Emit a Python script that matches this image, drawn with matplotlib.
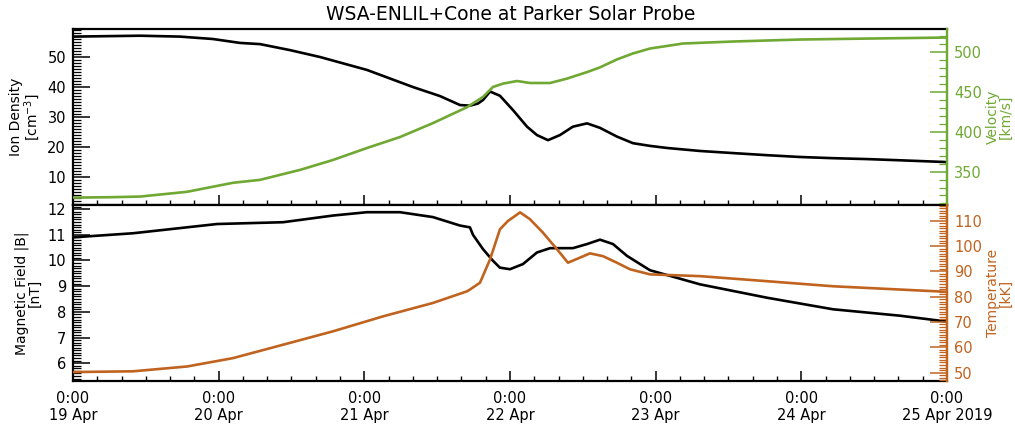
import matplotlib
matplotlib.use("Agg")
import matplotlib.pyplot as plt
from matplotlib.ticker import MultipleLocator, FuncFormatter

# WSA-ENLIL+Cone at Parker Solar Probe, 19-25 Apr 2019
# x = days since 19 Apr 2019 0:00

day_labels = ['19 Apr', '20 Apr', '21 Apr', '22 Apr', '23 Apr', '24 Apr', '25 Apr 2019']

# ion density [cm^-3]
dens_t = [0.0, 0.46, 0.735, 0.961, 1.146, 1.284, 1.49, 1.696, 2.018, 2.334, 2.519, 2.657,
          2.725, 2.78, 2.815, 2.863, 2.931, 3.021, 3.117, 3.185, 3.261, 3.343, 3.432, 3.529,
          3.618, 3.734, 3.844, 3.961, 4.078, 4.305, 4.531, 4.764, 4.991, 5.217, 5.451, 5.677, 6.0]
dens_v = [56.9, 57.2, 56.9, 56.1, 54.8, 54.4, 52.4, 50.1, 45.8, 40.1, 37.1, 34.1,
          33.9, 34.6, 35.8, 38.6, 37.2, 32.4, 26.9, 24.1, 22.4, 24.1, 26.9, 28.0,
          26.5, 23.6, 21.4, 20.5, 19.8, 18.8, 18.1, 17.4, 16.8, 16.4, 16.1, 15.7, 15.1]

# velocity [km/s]
vel_t = [0.0, 0.254, 0.46, 0.783, 1.098, 1.284, 1.558, 1.785, 2.018, 2.245, 2.471, 2.705,
         2.815, 2.883, 2.952, 3.048, 3.137, 3.275, 3.391, 3.529, 3.618, 3.734, 3.844, 3.961,
         4.188, 4.531, 4.991, 5.451, 6.0]
vel_v = [317.3, 317.8, 318.6, 324.6, 335.9, 339.6, 352.1, 364.6, 379.6, 393.4, 410.9, 430.9,
         443.8, 456.3, 460.5, 463.8, 461.3, 461.3, 466.8, 475.0, 480.9, 490.9, 498.4, 504.6,
         510.9, 513.4, 515.9, 517.1, 518.4]

# magnetic field |B| [nT]
bmag_t = [0.0, 0.412, 0.989, 1.442, 1.785, 2.018, 2.245, 2.471, 2.657, 2.725, 2.746, 2.815,
          2.883, 2.931, 3.0, 3.089, 3.185, 3.275, 3.432, 3.529, 3.618, 3.707, 3.803, 3.961,
          4.305, 4.764, 5.217, 5.677, 6.0]
bmag_v = [10.9, 11.06, 11.42, 11.49, 11.75, 11.88, 11.88, 11.69, 11.36, 11.29, 11.0, 10.44,
          9.99, 9.72, 9.66, 9.86, 10.31, 10.48, 10.48, 10.64, 10.81, 10.64, 10.18, 9.62,
          9.07, 8.55, 8.1, 7.85, 7.62]

# temperature [kK]
temp_t = [0.0, 0.412, 0.783, 1.098, 1.442, 1.785, 2.128, 2.471, 2.705, 2.725, 2.794, 2.863,
          2.931, 2.986, 3.021, 3.069, 3.137, 3.226, 3.323, 3.398, 3.48, 3.549, 3.638, 3.734,
          3.824, 3.961, 4.305, 4.764, 5.217, 5.677, 6.0]
temp_v = [50.2, 50.5, 52.4, 55.7, 61.0, 66.3, 72.2, 77.5, 82.1, 82.8, 85.5, 94.7,
          106.6, 109.9, 111.3, 113.3, 110.6, 105.3, 98.7, 93.4, 95.4, 97.1, 96.0, 93.4,
          90.8, 88.8, 88.1, 86.1, 84.1, 82.8, 81.9]

GREEN = '#6fa832'
ORANGE = '#c0631f'


def day_label(x, pos):
    i = int(round(x))
    if 0 <= i < len(day_labels):
        return '0:00\n' + day_labels[i]
    return ''


def style_axes(ax, right_color):
    for s in ax.spines.values():
        s.set_linewidth(1.6)
    ax.spines['right'].set_color(right_color)
    ax.set_xlim(0, 6)
    ax.xaxis.set_major_locator(MultipleLocator(1))
    ax.xaxis.set_minor_locator(MultipleLocator(1 / 6))
    ax.tick_params(axis='x', which='major', direction='in', length=7, width=1.1, top=False)
    ax.tick_params(axis='x', which='minor', direction='in', length=3.5, width=1.0, top=False)
    # IDL style: long major ticks, dense minor ticks on the left axis
    ax.tick_params(axis='y', which='major', direction='in', length=12, width=1.1,
                   labelsize=10.5, pad=5, left=True, right=False)
    ax.tick_params(axis='y', which='minor', direction='in', length=6, width=0.9,
                   left=True, right=False)


def style_twin(ax2, color):
    ax2.spines['right'].set_color(color)
    ax2.spines['right'].set_linewidth(1.6)
    for s in ['left', 'top', 'bottom']:
        ax2.spines[s].set_visible(False)
    ax2.tick_params(axis='y', which='major', direction='in', length=12, width=1.1,
                    colors=color, labelsize=10.5, pad=5)
    ax2.tick_params(axis='y', which='minor', direction='in', length=6, width=0.9, colors=color)


fig = plt.figure(figsize=(10.15, 4.28), dpi=100)
ax1 = fig.add_axes([0.0719, 0.521, 0.8611, 0.411])
ax3 = fig.add_axes([0.0719, 0.110, 0.8611, 0.411], sharex=ax1)
ax2 = ax1.twinx()
ax4 = ax3.twinx()

# top panel: density + velocity
ax1.plot(dens_t, dens_v, color='black', lw=1.9)
ax1.set_ylim(0.8, 59.4)
ax1.yaxis.set_major_locator(MultipleLocator(10))
ax1.yaxis.set_minor_locator(MultipleLocator(1))
style_axes(ax1, GREEN)
ax1.tick_params(axis='x', labelbottom=False)
ax1.set_ylabel('Ion Density\n[cm$^{-3}$]', fontsize=10, linespacing=0.9, labelpad=4)

ax2.plot(vel_t, vel_v, color=GREEN, lw=1.9)
ax2.set_ylim(308, 529)
ax2.yaxis.set_major_locator(MultipleLocator(50))
ax2.yaxis.set_minor_locator(MultipleLocator(10))
style_twin(ax2, GREEN)
ax2.set_ylabel('Velocity\n[km/s]', fontsize=10, color=GREEN, linespacing=0.9, labelpad=3)

# bottom panel: |B| + temperature
ax3.plot(bmag_t, bmag_v, color='black', lw=1.9)
ax3.set_ylim(5.31, 12.16)
ax3.yaxis.set_major_locator(MultipleLocator(1))
ax3.yaxis.set_minor_locator(MultipleLocator(0.1))
style_axes(ax3, ORANGE)
ax3.xaxis.set_major_formatter(FuncFormatter(day_label))
ax3.tick_params(axis='x', labelsize=10.5, pad=7)
ax3.set_ylabel('Magnetic Field |B|\n[nT]', fontsize=10, linespacing=0.9, labelpad=4)

ax4.plot(temp_t, temp_v, color=ORANGE, lw=1.9)
ax4.set_ylim(46.7, 116.2)
ax4.yaxis.set_major_locator(MultipleLocator(10))
ax4.yaxis.set_minor_locator(MultipleLocator(1))
style_twin(ax4, ORANGE)
ax4.set_ylabel('Temperature\n[kK]', fontsize=10, color=ORANGE, linespacing=0.9, labelpad=3)

fig.text(0.503, 0.966, 'WSA-ENLIL+Cone at Parker Solar Probe', ha='center', va='center', fontsize=13.5)

# draw once so the minor ticks are built, then set their style again
fig.canvas.draw()
for ax in (ax1, ax3):
    ax.tick_params(axis='y', which='minor', direction='in', length=6, width=0.9,
                   left=True, right=False)

plt.savefig('out.png', dpi=100)
plt.close()
